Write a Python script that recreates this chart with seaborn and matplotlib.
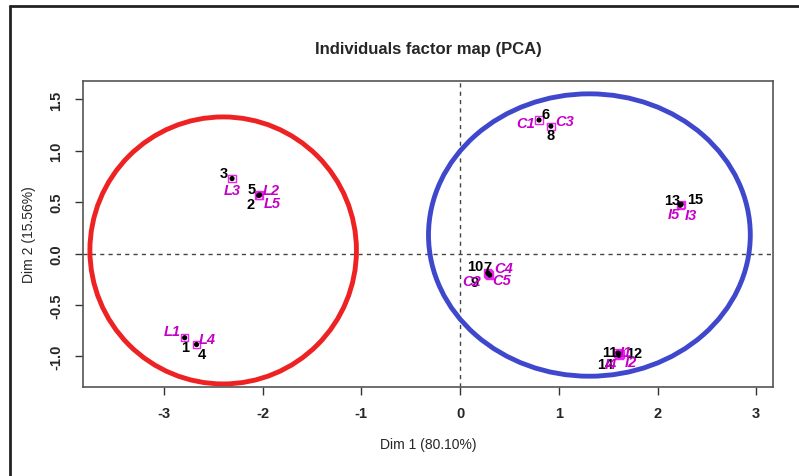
import matplotlib
matplotlib.use("Agg")
import matplotlib.pyplot as plt
import seaborn as sns
import pandas as pd
from matplotlib.patches import Ellipse
from matplotlib.lines import Line2D

# ---- data ----
ind_labels = ["1", "2", "3", "4", "5", "6", "7", "8", "9", "10",
              "11", "12", "13", "14", "15"]
grp_labels = ["L1", "L2", "L3", "L4", "L5", "C1", "C2", "C3", "C4", "C5",
              "I1", "I2", "I3", "I4", "I5"]
dim1 = [-2.79, -2.04, -2.31, -2.67, -2.03, 0.80, 0.29, 0.92, 0.30, 0.28,
        1.60, 1.62, 2.23, 1.61, 2.24]
dim2 = [-0.82, 0.565, 0.73, -0.886, 0.57, 1.30, -0.20, 1.24, -0.21, -0.19,
        -0.97, -0.98, 0.47, -0.99, 0.48]
x_ticks = [-3, -2, -1, 0, 1, 2, 3]
y_ticks = [-1.0, -0.5, 0.0, 0.5, 1.0, 1.5]
title = "Individuals factor map (PCA)"
xlabel = "Dim 1 (80.10%)"
ylabel = "Dim 2 (15.56%)"
# cluster ellipses: centre x, centre y, width, height
clusters = {"red": (-2.40, 0.03, 2.70, 2.60), "blue": (1.31, 0.18, 3.26, 2.75)}

df = pd.DataFrame({"dim1": dim1, "dim2": dim2, "ind": ind_labels, "grp": grp_labels})

# label offsets in points (layout only)
black_off = {"1": (0, -7), "2": (-6, -6), "3": (-6, 4), "4": (4, -7), "5": (-6, 4),
             "6": (5, 4), "7": (-1, 5), "8": (0, -6), "9": (-11, -5), "10": (-9, 5),
             "11": (-6, 1), "12": (10, 1), "13": (-6, 4), "14": (-10, -6), "15": (10, 4)}
mag_off = {"L1": (-9, 5), "L2": (9, 4), "L3": (0, -8), "L4": (8, 4), "L5": (9, -6),
           "C1": (-10, -2), "C2": (-12, -5), "C3": (10, 4), "C4": (10, 5), "C5": (10, -5),
           "I1": (6, 1), "I2": (8, -6), "I3": (8, -7), "I4": (-6, -6), "I5": (-5, -7)}

sns.set_style("white")
plt.rcParams["font.family"] = ["Liberation Sans", "DejaVu Sans"]

fig = plt.figure(figsize=(7.99, 4.77), dpi=100)
ax = fig.add_axes([83 / 799, 1 - 388 / 477, (773 - 83) / 799, (388 - 82) / 477])

ax.axhline(0, color="#444444", lw=1, ls=(0, (3, 3)), zorder=1)
ax.axvline(0, color="#444444", lw=1, ls=(0, (3, 3)), zorder=1)

ccol = {"red": "#EE2222", "blue": "#3F48CC"}
for k, (cx, cy, w, h) in clusters.items():
    ax.add_patch(Ellipse((cx, cy), w, h, fill=False, edgecolor=ccol[k], lw=3.5, zorder=2))

sns.scatterplot(data=df, x="dim1", y="dim2", ax=ax, marker="s", s=28,
                facecolor="none", edgecolor="#EE22EE", linewidth=1.0, zorder=3, legend=False)
sns.scatterplot(data=df, x="dim1", y="dim2", ax=ax, color="black", s=14,
                edgecolor="none", zorder=4, legend=False)

for xi, yi, lab in zip(dim1, dim2, ind_labels):
    ax.annotate(lab, (xi, yi), xytext=black_off[lab], textcoords="offset points",
                ha="center", va="center", fontsize=10.5, fontweight="bold",
                color="black", zorder=5)
for xi, yi, lab in zip(dim1, dim2, grp_labels):
    ax.annotate(lab, (xi, yi), xytext=mag_off[lab], textcoords="offset points",
                ha="center", va="center", fontsize=10.5, color="#C400C8",
                style="italic", fontweight="bold", zorder=6)

ax.set_xlim(-3.82, 3.17)
ax.set_ylim(-1.30, 1.68)
ax.set_xticks(x_ticks)
ax.set_xticklabels([str(t) for t in x_ticks])
ax.set_yticks(y_ticks)
ax.set_yticklabels([f"{t:.1f}" for t in y_ticks], rotation=90, va="center")
ax.tick_params(axis="both", direction="out", length=6, width=1, color="#333333",
               labelsize=10.5, pad=8, bottom=True, left=True)
for lbl in ax.get_xticklabels() + ax.get_yticklabels():
    lbl.set_fontweight("bold")
for s in ax.spines.values():
    s.set_color("#555555")
    s.set_linewidth(1.2)
ax.set_xlabel(xlabel, fontsize=10, labelpad=12)
ax.set_ylabel(ylabel, fontsize=10, labelpad=10)
ax.set_title(title, fontsize=12, fontweight="bold", pad=20)

# outer frame (top and left edges visible)
fig.add_artist(Line2D([10 / 799, 10 / 799], [0, 1 - 7 / 477], transform=fig.transFigure,
                      color="#222222", lw=2))
fig.add_artist(Line2D([10 / 799, 1], [1 - 7 / 477, 1 - 7 / 477], transform=fig.transFigure,
                      color="#222222", lw=2))

fig.savefig("out.png", dpi=100)
